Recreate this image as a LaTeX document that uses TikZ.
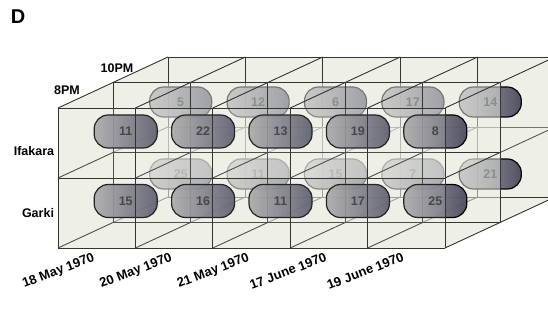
\documentclass[tikz,border=0pt]{standalone}
\usepackage{fontspec}
\setmainfont{Liberation Sans}
\usepackage{tikz}
\usetikzlibrary{positioning}
\definecolor{BoxBG}{HTML}{EEF0E8}
\definecolor{GridCol}{HTML}{333333}
\definecolor{PillDark}{HTML}{46465C}
\definecolor{PillLeft}{HTML}{A0A0A2}
\definecolor{PillMid}{HTML}{E6E6E4}
\definecolor{NumCol}{HTML}{2A2A2A}

\begin{document}
\begin{tikzpicture}[x=1pt,y=-1pt]
  \tikzstyle{pill}=[draw=black, line width=1.2pt, rounded corners=14pt,
               left color=PillLeft, middle color=PillMid, right color=PillDark,
               fill opacity=0.92, text opacity=1, inner sep=0pt,
               font=\fontsize{12.5}{12}\selectfont\bfseries, text=NumCol]
  \tikzstyle{pillf}=[pill, minimum width=63pt, minimum height=33pt]
  \tikzstyle{pillb}=[pill, minimum width=62pt, minimum height=30pt]
  \tikzstyle{lbl}=[font=\fontsize{12.5}{13}\selectfont\bfseries, inner sep=0pt]
  \tikzstyle{gridl}=[draw=GridCol, line width=0.9pt]
  \useasboundingbox (0,0) rectangle (548,320);
  \clip (0,0) rectangle (548,320);
  % box outline fill
  \fill[BoxBG] (58,108) -- (168,57) -- (555,57) -- (555,197) -- (445,248) -- (58,248) -- cycle;
  % back plane (10PM rear)
  \foreach \i in {0,...,5}
    \draw[gridl] ({58+77.4*\i+110},57) -- ({58+77.4*\i+110},197);
  \foreach \j in {108,178,248}
    \draw[gridl] (168,{\j-51}) -- (555,{\j-51});
  \foreach \i in {0,...,5}
    \foreach \j in {108,178,248}
      \draw[gridl] ({58+77.4*\i+55},{\j-25.5}) -- ({58+77.4*\i+110},{\j-51});
  % 10PM counts
  \foreach \n [count=\i] in {5,12,6,17,14}
    \node[pillb] (ifa10-\i) at ({58+77.4*(\i-0.5)+84},102) {\n};
  \foreach \n [count=\i] in {25,11,15,7,21}
    \node[pillb] (gar10-\i) at ({58+77.4*(\i-0.5)+84},174) {\n};
  % middle plane
  \fill[BoxBG, opacity=0.5] (113,82.5) rectangle (500,222.5);
  \fill[BoxBG, opacity=0.35] (58,178) -- (168,127) -- (555,127) -- (445,178) -- cycle;
  \foreach \i in {0,...,5}
    \draw[gridl] ({58+77.4*\i+55},82.5) -- ({58+77.4*\i+55},222.5);
  \foreach \j in {108,178,248}
    \draw[gridl] (113,{\j-25.5}) -- (500,{\j-25.5});
  \foreach \i in {0,...,5}
    \foreach \j in {108,178,248}
      \draw[gridl] ({58+77.4*\i},\j) -- ({58+77.4*\i+55},{\j-25.5});
  % 8PM counts
  \foreach \n [count=\i] in {11,22,13,19,8}
    \node[pillf] (ifa8-\i) at ({58+77.4*(\i-0.5)+29},131.5) {\n};
  \foreach \n [count=\i] in {15,16,11,17,25}
    \node[pillf] (gar8-\i) at ({58+77.4*(\i-0.5)+29},201) {\n};
  % front plane
  \fill[BoxBG, opacity=0.15] (58,108) rectangle (445,248);
  \foreach \i in {0,...,5}
    \draw[gridl] ({58+77.4*\i},108) -- ({58+77.4*\i},248);
  \foreach \j in {108,178,248}
    \draw[gridl] (58,\j) -- (445,\j);
  % labels
  \node[font=\fontsize{20}{20}\selectfont\bfseries] (lblD) at (18,17) {D};
  \node[lbl] (lbl10) at (117,68) {10PM};
  \node[lbl] (lbl8) at (67,90) {8PM};
  \node[lbl] (lblifa) at (34,151) {Ifakara};
  \node[lbl] (lblgar) at (38,213) {Garki};
  \foreach \d [count=\i from 0] in {18 May 1970,20 May 1970,21 May 1970,17 June 1970,19 June 1970}
    \node[lbl, font=\fontsize{13}{13}\selectfont\bfseries, rotate=21, anchor=north east]
      (date-\i) at ({58+77.4*\i+34},252) {\d};
\end{tikzpicture}
\end{document}
